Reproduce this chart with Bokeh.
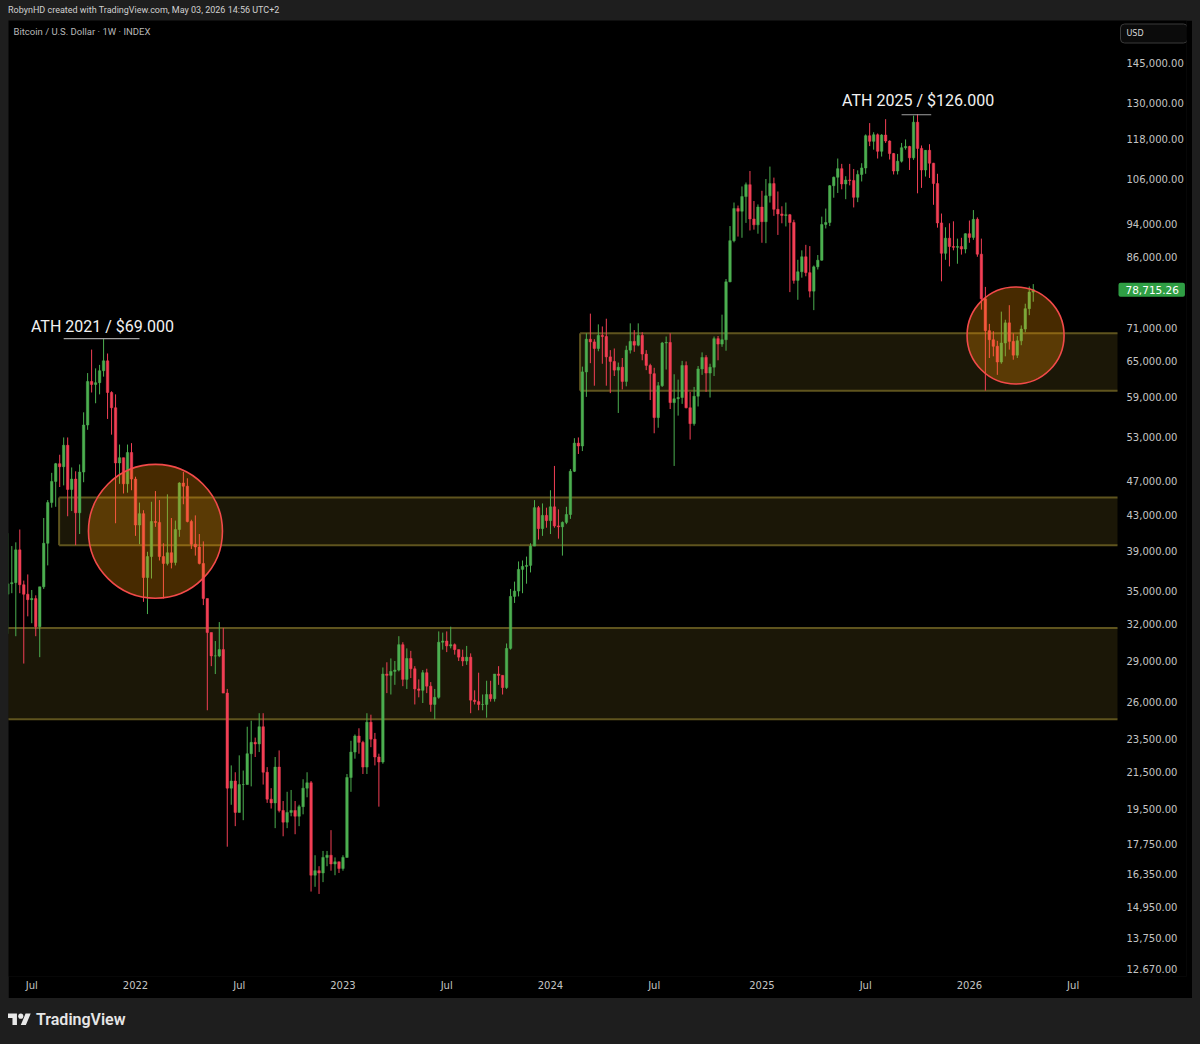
import pandas as pd
from bokeh.plotting import figure
from bokeh.models import ColumnDataSource, Range1d, FixedTicker, NumeralTickFormatter, Label, Div
from bokeh.layouts import column
from bokeh.embed import file_html
from bokeh.resources import INLINE
from bokeh.core.properties import value

# ---------------- data (weekly candles, thousand USD) ----------------
first_week = "2021-05-24"
week_open = [
    34.7, 35.7, 35.8, 39.1, 35.6, 34.7, 34.2, 34.3, 31.8, 35.4, 39.8, 44.4, 47.0, 49.3, 48.9, 51.8,
    46.0, 47.3, 43.2, 48.2, 54.7, 61.5, 61.0, 61.3, 63.3, 65.0, 59.7, 57.3, 49.4, 50.1, 46.7, 50.8,
    47.3, 41.8, 43.1, 36.3, 38.4, 42.2, 42.1, 38.4, 37.7, 38.8, 37.8, 41.3, 46.8, 46.4, 42.2, 39.7,
    39.4, 37.7, 34.3, 31.3, 29.4, 29.4, 29.9, 26.6, 20.6, 21.0, 19.3, 20.8, 20.8, 22.6, 23.3, 23.2,
    24.3, 21.5, 20.0, 19.8, 21.8, 19.4, 18.8, 19.3, 19.4, 19.1, 19.6, 20.6, 20.9, 16.3, 16.5, 16.4,
    17.1, 17.2, 16.8, 16.9,
    16.6, 17.1, 21.2, 22.7, 23.7, 23.3, 21.8, 24.6, 23.5, 22.4, 22.1, 28.0, 27.9, 28.2, 28.3, 30.3,
    27.6, 29.2, 28.4, 26.9, 26.8, 28.1, 27.1, 25.8, 26.3, 30.5, 30.6, 30.2, 30.3, 29.9, 29.3, 29.0,
    29.3, 26.1, 26.0, 25.8, 25.8, 26.5, 26.2, 28.0, 27.9, 27.0, 30.0, 34.5, 35.0, 37.1, 37.4, 37.5,
    39.5, 43.8, 41.4, 42.9,
    42.3, 43.9, 41.7, 41.6, 42.1, 43.0, 48.3, 52.1, 51.7, 63.1, 68.9, 68.4, 67.2, 69.6, 69.4, 65.7,
    64.9, 63.4, 63.9, 61.5, 66.9, 68.5, 67.8, 69.6, 66.2, 64.2, 62.8, 55.8, 60.8, 68.2, 68.3, 58.1,
    58.7, 58.9, 64.2, 57.3, 54.9, 59.1, 63.6, 65.6, 62.9, 63.9, 69.0, 68.0, 68.8, 80.4, 89.8, 97.9,
    97.2, 101.1, 104.4, 95.2, 93.7,
    98.3, 94.5, 101.3, 104.7, 97.7, 96.5, 96.1, 96.3, 94.3, 80.7, 82.6, 86.0, 82.4, 78.4, 83.7, 85.2,
    93.8, 94.3, 104.1, 106.5, 109.0, 104.6, 105.7, 105.6, 100.9, 107.3, 109.2, 119.1, 117.3, 119.4, 114.2, 119.3,
    117.4, 113.5, 108.3, 111.2, 115.3, 115.7, 112.2, 123.5, 115.1, 108.6, 114.5, 110.6, 104.7, 94.2, 86.8, 90.4,
    88.4, 88.2, 88.4, 87.8,
    91.5, 90.6, 95.1, 86.6, 76.8, 70.5, 68.8, 67.6, 64.8, 68.2, 72.0, 68.5, 66.0, 68.6, 70.8, 74.8, 78.2,
]
week_high = [
    40.9, 39.5, 39.9, 41.3, 36.0, 36.6, 35.1, 34.6, 35.4, 42.6, 44.7, 48.1, 49.4, 50.5, 52.9, 52.9,
    48.8, 48.3, 49.2, 56.6, 62.9, 67.0, 63.7, 64.3, 69.0, 66.3, 59.9, 59.4, 51.9, 50.1, 51.9, 52.1,
    47.6, 44.4, 43.5, 38.9, 44.5, 45.8, 44.7, 39.8, 45.4, 42.6, 42.3, 46.9, 48.2, 47.4, 42.4, 42.9,
    40.8, 40.0, 34.3, 31.3, 30.6, 32.2, 31.7, 26.9, 21.9, 21.5, 22.5, 21.6, 24.3, 24.7, 23.6, 25.2,
    25.2, 21.8, 20.6, 22.4, 22.8, 19.9, 20.4, 20.5, 19.9, 19.7, 21.1, 21.5, 21.0, 17.2, 16.7, 17.4,
    17.4, 18.4, 17.1, 16.9,
    17.2, 21.4, 23.4, 23.8, 24.2, 23.4, 25.2, 25.1, 23.9, 22.6, 28.5, 28.9, 29.2, 29.0, 31.0, 30.5,
    30.0, 29.8, 28.6, 27.6, 28.3, 28.4, 27.4, 26.9, 31.4, 31.3, 31.4, 31.8, 30.4, 29.9, 29.9, 30.2,
    29.6, 26.8, 28.1, 26.5, 27.5, 27.5, 28.0, 28.6, 27.9, 30.4, 35.2, 35.9, 37.9, 38.0, 38.4, 39.8,
    44.7, 44.0, 44.3, 43.8,
    45.9, 49.0, 43.6, 42.2, 43.9, 48.6, 52.8, 52.9, 64.0, 70.0, 73.8, 68.9, 71.7, 71.3, 72.8, 66.9,
    67.2, 64.7, 65.5, 67.7, 71.9, 70.6, 71.9, 70.2, 66.9, 64.5, 63.8, 61.4, 68.4, 69.4, 70.0, 62.7,
    61.8, 65.0, 64.9, 59.8, 60.6, 64.1, 66.5, 66.0, 64.5, 69.4, 69.5, 73.6, 81.0, 93.4, 99.5, 98.7,
    103.9, 105.0, 108.3, 99.9, 99.0,
    102.7, 106.0, 109.6, 106.4, 102.5, 98.5, 99.5, 96.5, 95.0, 85.3, 87.5, 88.8, 88.5, 84.0, 86.4, 95.8,
    97.9, 104.3, 106.7, 112.0, 110.4, 106.8, 110.4, 108.9, 108.5, 110.6, 119.5, 123.2, 120.2, 119.8, 119.6, 124.5,
    117.6, 113.7, 113.4, 116.8, 117.9, 115.9, 125.7, 126.2, 116.0, 114.6, 116.4, 110.7, 107.5, 96.6, 93.1, 94.1,
    94.6, 90.3, 90.5, 91.6,
    94.8, 97.5, 95.6, 90.3, 79.3, 71.8, 70.4, 68.6, 74.2, 72.6, 75.5, 70.0, 69.5, 71.5, 75.8, 79.4, 79.9,
]
week_low = [
    31.2, 34.8, 31.0, 34.8, 28.8, 32.7, 32.1, 31.0, 29.3, 35.2, 37.5, 43.8, 43.9, 46.3, 46.5, 42.8,
    43.4, 39.6, 40.8, 46.9, 54.0, 59.7, 58.0, 59.4, 62.3, 55.6, 53.3, 42.0, 46.7, 45.5, 45.6, 45.9,
    40.6, 39.7, 34.0, 32.9, 36.2, 41.6, 38.0, 34.3, 37.5, 37.2, 37.5, 40.5, 44.2, 42.1, 39.2, 38.5,
    37.6, 33.7, 25.4, 28.6, 28.0, 29.3, 26.6, 17.6, 19.7, 18.6, 19.3, 18.9, 20.8, 20.7, 22.4, 22.7,
    20.8, 19.8, 19.5, 18.5, 19.3, 18.1, 18.5, 19.1, 18.2, 18.6, 19.2, 20.1, 15.6, 15.8, 15.5, 16.0,
    16.7, 16.5, 16.3, 16.4,
    16.5, 17.1, 20.4, 22.3, 22.6, 21.4, 21.4, 23.0, 21.9, 19.6, 22.0, 26.6, 26.5, 27.2, 28.2, 27.1,
    26.9, 27.7, 25.8, 26.3, 25.9, 26.6, 25.3, 24.8, 26.2, 29.9, 29.7, 30.0, 29.5, 29.0, 28.6, 28.7,
    25.2, 25.8, 25.4, 25.4, 24.9, 26.0, 26.0, 27.2, 26.5, 26.9, 29.9, 33.9, 34.5, 34.8, 35.7, 36.8,
    39.5, 40.2, 40.6, 41.5,
    40.8, 41.5, 40.3, 38.5, 41.9, 42.5, 48.2, 50.6, 51.0, 59.0, 64.6, 60.8, 66.7, 64.5, 60.8, 59.6,
    62.4, 56.5, 60.2, 60.7, 66.3, 66.6, 67.6, 65.1, 63.4, 58.5, 53.5, 54.3, 60.6, 63.5, 57.1, 49.0,
    56.1, 57.9, 57.2, 52.6, 54.6, 57.5, 62.6, 59.8, 58.9, 62.4, 65.1, 67.5, 66.8, 80.3, 89.4, 90.8,
    90.5, 94.2, 92.3, 92.5, 91.5,
    89.3, 89.2, 99.5, 96.0, 91.2, 94.1, 93.3, 78.2, 80.0, 76.6, 81.3, 81.6, 77.1, 74.5, 83.1, 85.1,
    92.8, 93.4, 100.8, 102.1, 103.1, 100.4, 104.2, 98.2, 99.6, 105.3, 107.5, 115.8, 114.7, 112.0, 112.6, 116.8,
    111.7, 107.3, 107.3, 110.8, 114.7, 108.6, 111.6, 102.0, 103.5, 106.7, 106.3, 98.9, 93.0, 80.5, 85.3, 83.8,
    87.5, 84.4, 86.5, 86.8,
    89.3, 90.0, 86.0, 74.6, 60.0, 65.5, 65.8, 62.6, 64.5, 65.8, 67.0, 65.2, 65.5, 67.8, 70.2, 73.5, 76.2,
]
week_close = [
    35.7, 35.8, 39.1, 35.6, 34.7, 34.2, 34.3, 31.8, 35.4, 39.8, 44.4, 47.0, 49.3, 48.9, 51.8, 46.0,
    47.3, 43.2, 48.2, 54.7, 61.5, 61.0, 61.3, 63.3, 65.0, 59.7, 57.3, 49.4, 50.1, 46.7, 50.8, 47.3,
    41.8, 43.1, 36.3, 38.4, 42.2, 42.1, 38.4, 37.7, 38.8, 37.8, 41.3, 46.8, 46.4, 42.2, 39.7, 39.4,
    37.7, 34.3, 31.3, 29.4, 29.4, 29.9, 26.6, 20.6, 21.0, 19.3, 20.8, 20.8, 22.6, 23.3, 23.2, 24.3,
    21.5, 20.0, 19.8, 21.8, 19.4, 18.8, 19.3, 19.4, 19.1, 19.6, 20.6, 20.9, 16.3, 16.5, 16.4, 17.1,
    17.2, 16.8, 16.9, 16.6,
    17.1, 21.2, 22.7, 23.7, 23.3, 21.8, 24.6, 23.5, 22.4, 22.1, 28.0, 27.9, 28.2, 28.3, 30.3, 27.6,
    29.2, 28.4, 26.9, 26.8, 28.1, 27.1, 25.8, 26.3, 30.5, 30.6, 30.2, 30.3, 29.9, 29.3, 29.0, 29.3,
    26.1, 26.0, 25.8, 25.8, 26.5, 26.2, 28.0, 27.9, 27.0, 30.0, 34.5, 35.0, 37.1, 37.4, 37.5, 39.5,
    43.8, 41.4, 42.9, 42.3,
    43.9, 41.7, 41.6, 42.1, 43.0, 48.3, 52.1, 51.7, 63.1, 68.9, 68.4, 67.2, 69.6, 69.4, 65.7, 64.9,
    63.4, 63.9, 61.5, 66.9, 68.5, 67.8, 69.6, 66.2, 64.2, 62.8, 55.8, 60.8, 68.2, 68.3, 58.1, 58.7,
    58.9, 64.2, 57.3, 54.9, 59.1, 63.6, 65.6, 62.9, 63.9, 69.0, 68.0, 68.8, 80.4, 89.8, 97.9, 97.2,
    101.1, 104.4, 95.2, 93.7, 98.3,
    94.5, 101.3, 104.7, 97.7, 96.5, 96.1, 96.3, 94.3, 80.7, 82.6, 86.0, 82.4, 78.4, 83.7, 85.2, 93.8,
    94.3, 104.1, 106.5, 109.0, 104.6, 105.7, 105.6, 100.9, 107.3, 109.2, 119.1, 117.3, 119.4, 114.2, 119.3, 117.4,
    113.5, 108.3, 111.2, 115.3, 115.7, 112.2, 123.5, 115.1, 108.6, 114.5, 110.6, 104.7, 94.2, 86.8, 90.4, 88.4,
    88.2, 88.4, 87.8, 91.5,
    90.6, 95.1, 86.6, 76.8, 70.5, 68.8, 67.6, 64.8, 68.2, 72.0, 68.5, 66.0, 68.6, 70.8, 74.8, 78.2, 78.71526,
]
last_price = 78715.26

# x-axis labels
tick_dates = ["2021-07-05", "2022-01-03", "2022-07-04", "2023-01-02", "2023-07-03", "2024-01-01",
              "2024-07-01", "2025-01-06", "2025-07-07", "2026-01-05", "2026-07-06"]
tick_labels = ["Jul", "2022", "Jul", "2023", "Jul", "2024", "Jul", "2025", "Jul", "2026", "Jul"]
# y-axis price levels
price_ticks = [145000, 130000, 118000, 106000, 94000, 86000, 71000, 65000, 59000, 53000, 47000,
               43000, 39000, 35000, 32000, 29000, 26000, 23500, 21500, 19500, 17750, 16350,
               14950, 13750, 12670]

# zones (support / resistance boxes)
zone_start = ["2020-12-01", "2021-08-22", "2024-02-22"]
zone_low = [24800, 39600, 60000]
zone_high = [31700, 45000, 70000]

# highlight circles
circle_dates = ["2022-02-07", "2026-03-27"]
circle_prices = [41100, 69600]

# ATH annotations
ath_texts = ["ATH 2021 / $69.000", "ATH 2025 / $126.000"]
ath_prices = [69000, 126000]
ath_text_dates = ["2021-11-06", "2025-10-07"]
ath_line_from = ["2021-08-30", "2025-09-08"]
ath_line_to = ["2022-01-10", "2025-10-30"]

# ---------------- helpers ----------------
base = pd.Timestamp("2022-01-03")


def widx(d):
    return (pd.Timestamp(d) - base).days / 7.0


PX = 3.99                      # pixels per weekly bar
FIG_W, FIG_H = 1184, 978
RIGHT_PAD, BOTTOM_PAD = 6, 22
X0 = -127 / PX                 # left edge of the pane
X1 = X0 + (FIG_W - RIGHT_PAD) / PX
PANE_END = X0 + 1109 / PX      # where the price scale starts
Y0, Y1 = 12414, 162340

dates = pd.date_range(first_week, periods=len(week_open), freq="W-MON")
xs = [(d - base).days / 7.0 for d in dates]
o = [v * 1000 for v in week_open]
h = [v * 1000 for v in week_high]
l = [v * 1000 for v in week_low]
c = [v * 1000 for v in week_close]
UP, DOWN = "#4caf50", "#f23f55"
colors = [UP if cc >= oo else DOWN for oo, cc in zip(o, c)]
src = ColumnDataSource(dict(x=xs, open=o, high=h, low=l, close=c,
                            top=[max(a, b) for a, b in zip(o, c)],
                            bottom=[min(a, b) for a, b in zip(o, c)],
                            color=colors))

p = figure(width=FIG_W, height=FIG_H, x_range=Range1d(X0, X1), y_range=Range1d(Y0, Y1),
           y_axis_type="log", y_axis_location="right", toolbar_location=None,
           output_backend="svg", background_fill_color="black", border_fill_color="black",
           min_border_left=0, min_border_right=RIGHT_PAD, min_border_top=0,
           min_border_bottom=BOTTOM_PAD, margin=(0, 0, 0, 8))
p.outline_line_color = None
p.xgrid.visible = False
p.ygrid.visible = False

# y axis (price scale, labels drawn leftwards into the scale column)
p.yaxis.ticker = FixedTicker(ticks=price_ticks)
p.yaxis.formatter = NumeralTickFormatter(format="0,0.00")
p.yaxis.major_label_overrides = {12670: "12.670.00"}
p.yaxis.axis_line_color = None
p.yaxis.major_tick_line_color = None
p.yaxis.minor_tick_line_color = None
p.yaxis.major_tick_out = 0
p.yaxis.major_tick_in = 0
p.yaxis.minor_tick_out = 0
p.yaxis.major_label_standoff = -60
p.yaxis.major_label_text_color = "#c4c4c4"
p.yaxis.major_label_text_font = "DejaVu Sans"
p.yaxis.major_label_text_font_size = "10px"

# x axis
tick_idx = [int(round(widx(d))) for d in tick_dates]
p.xaxis.ticker = FixedTicker(ticks=tick_idx)
p.xaxis.major_label_overrides = {t: s for t, s in zip(tick_idx, tick_labels)}
p.xaxis.axis_line_color = None
p.xaxis.major_tick_line_color = None
p.xaxis.minor_tick_line_color = None
p.xaxis.major_tick_out = 0
p.xaxis.major_tick_in = 0
p.xaxis.minor_tick_out = 0
p.xaxis.major_label_standoff = 3
p.xaxis.major_label_text_color = "#c4c4c4"
p.xaxis.major_label_text_font = "DejaVu Sans"
p.xaxis.major_label_text_font_size = "10px"

# zones
zl = [widx(d) for d in zone_start]
zr = [PANE_END] * len(zl)
p.quad(left=zl, right=zr, bottom=zone_low, top=zone_high, fill_color="#7a6a20",
       fill_alpha=0.22, line_color=None)
ZLINE = "#5f541e"
p.segment(x0=zl + zl, y0=zone_low + zone_high, x1=zr + zr, y1=zone_low + zone_high,
          line_color=ZLINE, line_width=2)
p.segment(x0=zl, y0=zone_low, x1=zl, y1=zone_high, line_color=ZLINE, line_width=2)

# candles
p.segment(x0="x", y0="low", x1="x", y1="high", line_color="color", line_width=1, source=src)
p.vbar(x="x", width=0.62, top="top", bottom="bottom", fill_color="color", line_color="color",
       line_width=0.5, source=src)

# circles
p.scatter(x=[widx(d) for d in circle_dates], y=circle_prices, size=[134, 97], marker="circle",
          fill_color="#ff9800", fill_alpha=0.28, line_color="#f24a4a", line_width=1.6)

# ATH annotations
p.segment(x0=[widx(d) for d in ath_line_from], y0=ath_prices,
          x1=[widx(d) for d in ath_line_to], y1=ath_prices, line_color="#a0a0a0", line_width=1.2)
p.text(x=[widx(d) for d in ath_text_dates], y=ath_prices, text=ath_texts, text_align="center",
       text_baseline="alphabetic", y_offset=[-12, -14], text_color="#f2f2f2",
       text_font=value("Roboto"), text_font_size="16px")

# pane legend
p.add_layout(Label(x=X0 + 5 / PX, y=157600, text="Bitcoin / U.S. Dollar · 1W · INDEX",
                   text_baseline="middle", text_color="#b8b8b8", text_font="Roboto",
                   text_font_size="9.5px"))


def mk_label(**kw):
    for pad in (kw.pop("padding", None), 4):
        try:
            if pad is None:
                raise ValueError
            return Label(padding=pad, **kw)
        except Exception:
            continue
    kw.pop("border_radius", None)
    return Label(**kw)


# last price tag and currency button (inside the price-scale column)
p.add_layout(mk_label(x=X0 + 1110 / PX, y=last_price, text="78,715.26", text_baseline="middle",
                      text_color="#ffffff", text_font="DejaVu Sans", text_font_size="10.5px",
                      background_fill_color="#2f9e44",
                      padding=dict(left=7, right=6, top=3, bottom=3), border_radius=2))
p.add_layout(mk_label(x=X0 + 1112 / PX, y=156760, text="USD", text_baseline="middle",
                      text_color="#d8d8d8", text_font="DejaVu Sans", text_font_size="8px",
                      background_fill_color="#0b0b0b", border_line_color="#3a3a3a",
                      padding=dict(left=6, right=44, top=5, bottom=5), border_radius=4))

header = Div(text="RobynHD created with TradingView.com, May 03, 2026 14:56 UTC+2",
             width=1184, height=20, margin=(0, 0, 0, 8),
             styles={"color": "#d0d0d0", "font-family": "Roboto", "font-size": "9px",
                     "line-height": "20px", "white-space": "nowrap"})
logo = ('<div style="display:flex;align-items:center;height:44px;">'
        '<svg width="23" height="18" viewBox="0 0 36 28"><path d="M14 22H7V11H0V4h14v18zM28 22h-8l7.5-18h8L28 22z" fill="#e8e8e8"/>'
        '<circle cx="20" cy="8" r="4" fill="#e8e8e8"/></svg>'
        '<span style="font-family:Roboto;font-size:16px;font-weight:600;color:#e6e6e6;margin-left:5px;">TradingView</span></div>')
footer = Div(text=logo, width=1184, height=44, margin=(0, 0, 0, 8))

layout = column(header, p, footer, spacing=0)
html = file_html(layout, INLINE, title="Bitcoin / U.S. Dollar")
html = html.replace("</head>", "<style>html,body{background-color:#1e1e1e;}</style>\n</head>", 1)
open("out.html", "w").write(html)
